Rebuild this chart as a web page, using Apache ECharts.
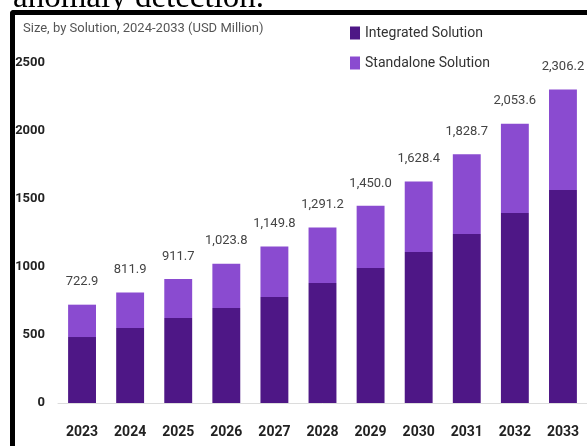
<!DOCTYPE html>
<html>
<head>
<meta charset="utf-8">
<script src="https://cdn.jsdelivr.net/npm/echarts@6/dist/echarts.min.js"></script>
<style>
    html, body { margin: 0; padding: 0; background: #fff; overflow: hidden; }
    #chart { position: absolute; left: 0; top: 0; width: 587px; height: 446px; }
    #cut { position: absolute; left: 13px; top: -19px; z-index: 2; font: 33px/30px 'Liberation Serif', 'Times New Roman', serif; color: #000; white-space: nowrap; }
    #frame { position: absolute; left: 10px; top: 10px; width: 600px; height: 500px; z-index: 3; border-left: 5px solid #000; border-top: 5px solid #000; border-top-left-radius: 4px; pointer-events: none; }
</style>
</head>
<body>
<div id="chart"></div>
<div id="cut">anomaly detection.</div>
<div id="frame"></div>
<script>
// values (USD million)
const years = ['2023', '2024', '2025', '2026', '2027', '2028', '2029', '2030', '2031', '2032', '2033'];
const integrated = [485, 551, 625, 698, 779, 882, 993, 1110, 1243, 1397, 1566];
const standalone = [238, 261, 287, 326, 371, 409, 457, 518, 586, 657, 740];
const totals = ['722.9', '811.9', '911.7', '1,023.8', '1,149.8', '1,291.2', '1,450.0', '1,628.4', '1,828.7', '2,053.6', '2,306.2'];

const font = "'Roboto', sans-serif";

const chart = echarts.init(document.getElementById('chart'));
chart.setOption({
    animation: false,
    backgroundColor: 'transparent',
    textStyle: { fontFamily: font },
    title: {
        text: 'Size, by Solution, 2024-2033 (USD Million)',
        left: 18,
        top: 17,
        textStyle: { fontFamily: font, fontSize: 13, fontWeight: 'normal', color: '#555' }
    },
    legend: {
        orient: 'vertical',
        left: 345,
        top: 21,
        icon: 'rect',
        itemWidth: 10,
        itemHeight: 13,
        itemGap: 16,
        textStyle: { fontFamily: font, fontSize: 14, color: '#333' },
        data: ['Integrated Solution', 'Standalone Solution']
    },
    grid: { left: 58, right: 0, top: 63, bottom: 43 },
    xAxis: {
        type: 'category',
        data: years,
        axisLine: { lineStyle: { color: '#dcdcdc' } },
        axisTick: { show: false },
        axisLabel: { margin: 22, fontFamily: font, fontSize: 14, fontWeight: 'bold', color: '#222' }
    },
    yAxis: {
        type: 'value',
        min: 0,
        max: 2500,
        interval: 500,
        splitLine: { show: false },
        axisLine: { show: false },
        axisTick: { show: false },
        axisLabel: {
            margin: 13,
            fontFamily: font,
            fontSize: 13,
            fontWeight: 'bold',
            color: '#222',
            formatter: (v) => String(v)
        }
    },
    series: [
        {
            name: 'Integrated Solution',
            type: 'bar',
            stack: 'total',
            barWidth: '58%',
            itemStyle: { color: '#4e1786' },
            data: integrated
        },
        {
            name: 'Standalone Solution',
            type: 'bar',
            stack: 'total',
            itemStyle: { color: '#8a4bd0' },
            label: {
                show: true,
                position: 'top',
                distance: 16,
                fontFamily: font,
                fontSize: 13,
                color: '#444',
                formatter: (p) => totals[p.dataIndex]
            },
            data: standalone
        }
    ]
});
</script>
</body>
</html>
